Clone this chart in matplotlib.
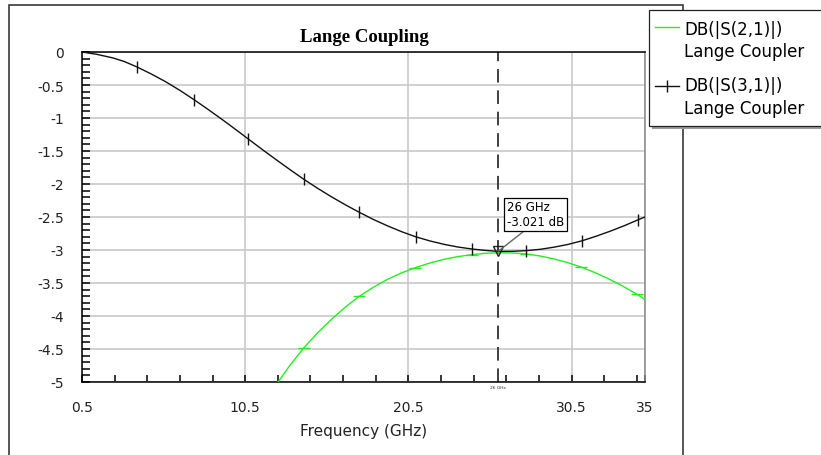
import matplotlib
matplotlib.use("Agg")
import matplotlib.pyplot as plt
from matplotlib.patches import Rectangle
from matplotlib.lines import Line2D
import numpy as np

# ---- data ----
f31 = [0.5, 1.4, 2.4, 3.1, 3.9, 4.76, 5.63, 6.49, 7.35, 8.19, 9.03, 9.86, 10.7,
       11.55, 12.4, 13.25, 14.1, 14.95, 15.8, 16.65, 17.5, 18.36, 19.23, 20.09,
       20.95, 21.81, 22.68, 23.54, 24.4, 25.23, 26.0, 26.88, 27.7, 28.56, 29.43,
       30.29, 31.15, 32.01, 32.88, 33.74, 34.6, 35.0]
s31 = [0.0, -0.035, -0.09, -0.145, -0.23, -0.335, -0.451, -0.58, -0.72, -0.864,
       -1.012, -1.164, -1.32, -1.478, -1.632, -1.783, -1.93, -2.067, -2.196,
       -2.317, -2.43, -2.538, -2.635, -2.723, -2.80, -2.862, -2.914, -2.955,
       -2.985, -3.006, -3.021, -3.02, -3.01, -2.99, -2.957, -2.915, -2.86,
       -2.791, -2.714, -2.631, -2.54, -2.50]
mark31_f = [3.9, 7.35, 10.7, 14.1, 17.5, 20.95, 24.4, 27.7, 31.15, 34.6]

f21 = [12.0, 12.4, 13.25, 14.1, 14.95, 15.8, 16.65, 17.5, 18.35, 19.2, 20.05,
       20.9, 21.78, 22.65, 23.53, 24.4, 25.23, 26.05, 26.88, 27.7, 28.55, 29.4,
       30.25, 31.1, 31.95, 32.8, 33.65, 34.5, 35.0]
s21 = [-5.18, -5.04, -4.745, -4.48, -4.252, -4.047, -3.862, -3.70, -3.565,
       -3.448, -3.35, -3.27, -3.20, -3.143, -3.10, -3.07, -3.05, -3.041, -3.045,
       -3.06, -3.09, -3.134, -3.19, -3.26, -3.344, -3.44, -3.549, -3.67, -3.75]
mark21_f = [14.1, 17.5, 20.9, 24.4, 27.7, 31.1, 34.5]

xticks = [0.5, 10.5, 20.5, 30.5, 35]
xticklabels = ["0.5", "10.5", "20.5", "30.5", "35"]
yticks = [0, -0.5, -1, -1.5, -2, -2.5, -3, -3.5, -4, -4.5, -5]
yticklabels = ["0", "-0.5", "-1", "-1.5", "-2", "-2.5", "-3", "-3.5", "-4", "-4.5", "-5"]
marker_f = 26.0
marker_db = -3.021
legend_names = ["DB(|S(2,1)|)\nLange Coupler", "DB(|S(3,1)|)\nLange Coupler"]

mark31 = [f31.index(v) for v in mark31_f]
mark21 = [f21.index(v) for v in mark21_f]

W, H = 821, 456
fig = plt.figure(figsize=(W / 100, H / 100), dpi=100)
fig.patch.set_facecolor("white")

def fx(x):
    return x / W

def fy(y):
    return 1 - y / H

# outer frame
fig.patches.append(Rectangle((fx(9), fy(470)), fx(683) - fx(9), fy(6) - fy(470),
                             transform=fig.transFigure, fill=False,
                             edgecolor="#3a3a3a", linewidth=1.2, zorder=0))

L, R, T, B = 82, 645, 53, 383
ax = fig.add_axes([fx(L), fy(B), fx(R) - fx(L), fy(T) - fy(B)])
ax.set_xlim(0.5, 35)
ax.set_ylim(-5, 0)

green = "#22ee22"
ax.plot(f21, s21, color=green, lw=1.0, marker="_", markersize=9,
        markeredgewidth=1.0, markevery=mark21, zorder=3, clip_on=True)
ax.plot(f31, s31, color="#111111", lw=1.0, marker="|", markersize=9,
        markeredgewidth=1.0, markevery=mark31, zorder=4)

ax.axvline(marker_f, color="#404040", lw=1.4, ls=(0, (7, 4)), zorder=2)
ax.plot([marker_f], [marker_db], marker="v", markersize=7, markerfacecolor="none",
        markeredgecolor="#222222", markeredgewidth=1.0, zorder=5)

ax.annotate("26 GHz\n-3.021 dB", xy=(marker_f, marker_db),
            xytext=(fx(506.7), fy(229)), textcoords="figure fraction",
            fontsize=8.5, ha="left", va="bottom", linespacing=1.15,
            bbox=dict(boxstyle="square,pad=0.25", facecolor="white",
                      edgecolor="black", linewidth=0.9),
            arrowprops=dict(arrowstyle="-", color="#666666", lw=1.0,
                            relpos=(0.37, 0.0), shrinkA=0, shrinkB=0),
            zorder=6)

ax.text(marker_f, -5.07, "26 GHz", fontsize=3.2, ha="center", va="center",
        color="#333333", clip_on=False)

ax.set_xticks(xticks)
ax.set_xticklabels(xticklabels)
ax.set_xticks(np.arange(0.5, 35, 2), minor=True)
ax.set_yticks(yticks)
ax.set_yticklabels(yticklabels)
ax.set_yticks(np.arange(-5, 0.001, 0.1), minor=True)

ax.grid(True, which="major", color="#c8c8c8", lw=1.2, zorder=0)
ax.set_axisbelow(True)
ax.tick_params(axis="both", which="both", direction="in", colors="black",
               labelsize=10, width=1.1)
ax.tick_params(axis="y", which="both", length=6, pad=13)
ax.tick_params(axis="x", which="both", length=5, pad=13)
for lab in ax.get_xticklabels() + ax.get_yticklabels():
    lab.set_color("#222222")

for s in ["left", "bottom", "top"]:
    ax.spines[s].set_color("black")
    ax.spines[s].set_linewidth(1.1)
ax.spines["right"].set_color("#888888")
ax.spines["right"].set_linewidth(1.1)

fig.text(fx(364), fy(37), "Lange Coupling", family="Liberation Serif",
         fontweight="bold", fontsize=13.5, ha="center", va="center")
fig.text(fx(363.5), fy(432), "Frequency (GHz)", fontsize=11, ha="center",
         va="center", color="#222222")

# legend box with shadow
fig.patches.append(Rectangle((fx(652), fy(130)), fx(830) - fx(652), fy(14) - fy(130),
                             transform=fig.transFigure, facecolor="#9a9a9a",
                             edgecolor="none", zorder=5))
fig.patches.append(Rectangle((fx(649), fy(127)), fx(830) - fx(649), fy(11) - fy(127),
                             transform=fig.transFigure, facecolor="white",
                             edgecolor="#222222", linewidth=0.9, zorder=6))
fig.lines.append(Line2D([fx(655), fx(679)], [fy(28), fy(28)], color=green, lw=1.0,
                        transform=fig.transFigure, zorder=7))
fig.lines.append(Line2D([fx(655), fx(679)], [fy(87), fy(87)], color="#111111", lw=1.0,
                        transform=fig.transFigure, zorder=7))
fig.lines.append(Line2D([fx(667)], [fy(87)], color="#111111", lw=0,
                        marker="|", markersize=9, transform=fig.transFigure, zorder=7))
fig.text(fx(684), fy(41), legend_names[0], fontsize=12, ha="left", va="center",
         linespacing=1.35, zorder=8)
fig.text(fx(684), fy(97.5), legend_names[1], fontsize=12, ha="left", va="center",
         linespacing=1.35, zorder=8)

fig.savefig("out.png", dpi=100)
